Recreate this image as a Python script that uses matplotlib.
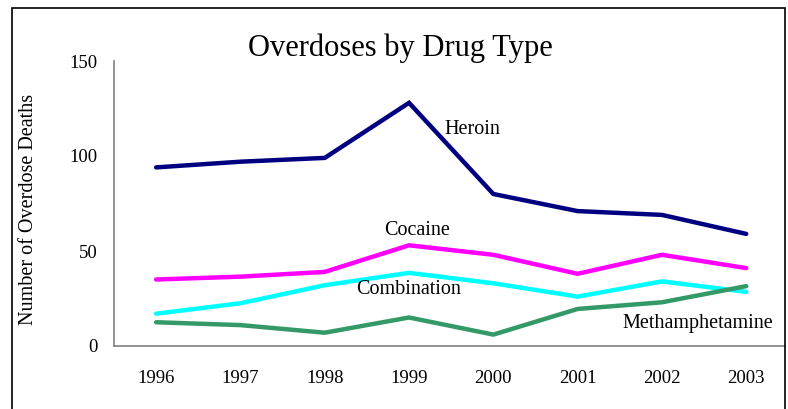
import numpy as np
import matplotlib
matplotlib.use('Agg')
import matplotlib.pyplot as plt
import matplotlib.patches as mpatches

years = ['1996', '1997', '1998', '1999', '2000', '2001', '2002', '2003']
heroin = [94, 97, 99, 128, 80, 71, 69, 59]
cocaine = [35, 36.5, 39, 53, 48, 38, 48, 41]
combination = [17, 22.5, 32, 38.5, 33, 26, 34, 28.5]
meth = [12.5, 11, 7, 15, 6, 19.5, 23, 31.5]

series = [heroin, cocaine, combination, meth]
colors = ['#000080', '#FF00FF', '#00FFFF', '#339966']
names = ['Heroin', 'Cocaine', 'Combination', 'Methamphetamine']
label_pos = [(3.75, 114), (3.1, 61), (3.0, 30), (6.43, 12)]

plt.rcParams['font.family'] = ['Liberation Serif', 'DejaVu Serif']

fig = plt.figure(figsize=(7.88, 4.09), dpi=100)
W, H = 788, 409
ax = fig.add_axes([114 / W, (H - 346) / H, (785 - 114) / W, (346 - 61) / H])

x = np.arange(len(years))
for s, c in zip(series, colors):
    ax.plot(x, s, color=c, lw=3.2, solid_capstyle='round', solid_joinstyle='miter')

for name, (px, py) in zip(names, label_pos):
    ax.text(px, py, name, ha='center', va='center', fontsize=14.5)

ax.set_xlim(-0.5, 7.46)
ax.set_ylim(0, 150)
ax.set_yticks([0, 50, 100, 150])
ax.set_xticks(x)
ax.set_xticklabels(years)
ax.tick_params(length=0, labelsize=13.5)
ax.tick_params(axis='x', pad=17)
ax.tick_params(axis='y', pad=11.5)
for sp in ['top', 'right']:
    ax.spines[sp].set_visible(False)
for sp in ['left', 'bottom']:
    ax.spines[sp].set_color('#808080')
    ax.spines[sp].set_linewidth(1.2)

ax.set_ylabel('Number of Overdose Deaths', fontsize=14.5)
ax.yaxis.set_label_coords((38 - 114) / (785 - 114), (346 - 209) / (346 - 61))

fig.text(400 / W, (H - 48) / H, 'Overdoses by Drug Type', ha='center', va='center', fontsize=22)

# outer frame (bottom edge lies below the image)
frame = mpatches.Rectangle((11.5 / W, -0.05), (785 - 11.5) / W, (H - 8) / H + 0.05,
                           transform=fig.transFigure, fill=False, edgecolor='black',
                           linewidth=1.2)
fig.patches.append(frame)

fig.savefig('out.png', dpi=100)
